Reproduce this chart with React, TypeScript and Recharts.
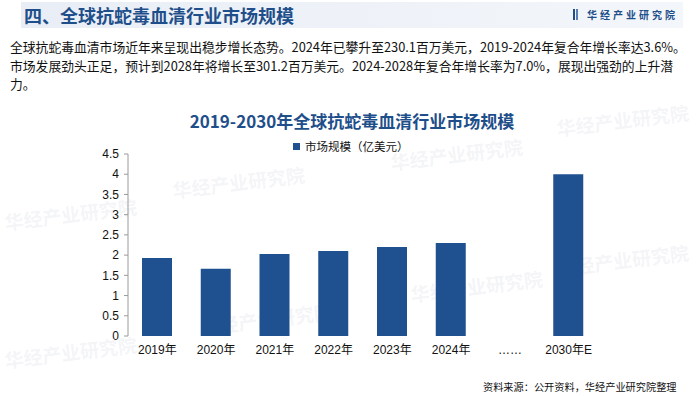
import { BarChart, Bar, XAxis, YAxis } from "recharts";

const years = ["2019年", "2020年", "2021年", "2022年", "2023年", "2024年", "……", "2030年E"];
const marketSize = [1.93, 1.66, 2.03, 2.1, 2.2, 2.3, null, 4.0];
const yTicks = [0, 0.5, 1, 1.5, 2, 2.5, 3, 3.5, 4, 4.5];

const chartData = years.map((year, i) => ({ year, value: marketSize[i] }));
// boundaries between categories, for the little tick marks under the x axis
const edgeTicks = years.map((_, i) => i).concat(years.length);

const BLUE = "#1f5090";
const CJK = "'Noto Sans CJK SC', sans-serif";
const LATIN = "'Liberation Sans', 'Noto Sans CJK SC', sans-serif";

const watermarks = [
  { x: 172, y: 168 },
  { x: 4, y: 200 },
  { x: 390, y: 140 },
  { x: 556, y: 106 },
  { x: 200, y: 305 },
  { x: 4, y: 338 },
  { x: 410, y: 272 },
  { x: 556, y: 246 },
];

export default function App() {
  return (
    <div style={{ position: "fixed", left: 0, top: 0, width: 700, height: 396, background: "#fff", overflow: "hidden", fontFamily: CJK }}>
      {watermarks.map((w, i) => (
        <div
          key={i}
          style={{ position: "absolute", left: w.x, top: w.y, fontSize: 19, fontWeight: 700, color: "rgba(170,178,195,0.15)", transform: "rotate(-7deg)", whiteSpace: "nowrap" }}
        >
          华经产业研究院
        </div>
      ))}

      <div style={{ position: "absolute", left: 21, top: 2, width: 662, height: 26, background: "linear-gradient(90deg, #e9eef6, #f3f6fa)" }} />
      <div style={{ position: "absolute", left: 24, top: 3, fontSize: 18, fontWeight: 700, color: "#1f4f8a", lineHeight: "24px", whiteSpace: "nowrap" }}>
        四、全球抗蛇毒血清行业市场规模
      </div>
      <div style={{ position: "absolute", left: 573, top: 9, width: 2, height: 11, background: "#1f4f8a" }} />
      <div style={{ position: "absolute", left: 576, top: 9, width: 2, height: 11, background: "#5a7fb0" }} />
      <div style={{ position: "absolute", left: 587, top: 6, fontSize: 10, fontWeight: 700, color: "#1f4f8a", letterSpacing: 3, lineHeight: "18px", whiteSpace: "nowrap" }}>
        华经产业研究院
      </div>

      <div style={{ position: "absolute", left: 10, top: 38, fontSize: 12.8, color: "#111", lineHeight: "18.5px", whiteSpace: "nowrap" }}>
        <div>全球抗蛇毒血清市场近年来呈现出稳步增长态势。2024年已攀升至230.1百万美元，2019-2024年复合年增长率达3.6%。</div>
        <div>市场发展劲头正足，预计到2028年将增长至301.2百万美元。2024-2028年复合年增长率为7.0%，展现出强劲的上升潜</div>
        <div>力。</div>
      </div>

      <div style={{ position: "absolute", left: 0, width: 700, top: 108, textAlign: "center", paddingLeft: 2, fontSize: 17, fontWeight: 700, color: "#1f4f8a", lineHeight: "26px" }}>
        2019-2030年全球抗蛇毒血清行业市场规模
      </div>
      <div style={{ position: "absolute", left: 293, top: 138, display: "flex", alignItems: "center", fontSize: 11.5, color: "#111", lineHeight: "16px" }}>
        <span style={{ display: "inline-block", width: 7, height: 7, background: BLUE, marginRight: 5 }} />
        市场规模（亿美元）
      </div>

      <div style={{ position: "absolute", left: 0, top: 0 }}>
        <BarChart width={700} height={396} data={chartData} margin={{ top: 154, right: 102, bottom: 30, left: 0 }}>
          <XAxis
            xAxisId="edges"
            type="number"
            domain={[0, years.length]}
            ticks={edgeTicks}
            allowDataOverflow
            tick={false}
            height={0}
            tickSize={5}
            stroke="#9a9a9a"
          />
          <XAxis
            xAxisId="cat"
            dataKey="year"
            axisLine={false}
            tickLine={false}
            tickSize={0}
            tickMargin={9}
            height={30}
            interval={0}
            tick={{ fontSize: 12, fill: "#111", fontFamily: LATIN }}
          />
          <YAxis
            width={128}
            domain={[0, 4.5]}
            ticks={yTicks}
            interval={0}
            tickSize={4}
            tickMargin={5}
            stroke="#9a9a9a"
            tick={{ fontSize: 12, fill: "#111", fontFamily: LATIN }}
          />
          <Bar xAxisId="cat" dataKey="value" fill={BLUE} barSize={30} isAnimationActive={false} />
        </BarChart>
      </div>

      <div style={{ position: "absolute", left: 483, top: 380, fontSize: 10.2, color: "#111", lineHeight: "14px", whiteSpace: "nowrap" }}>
        资料来源：公开资料，华经产业研究院整理
      </div>
    </div>
  );
}
